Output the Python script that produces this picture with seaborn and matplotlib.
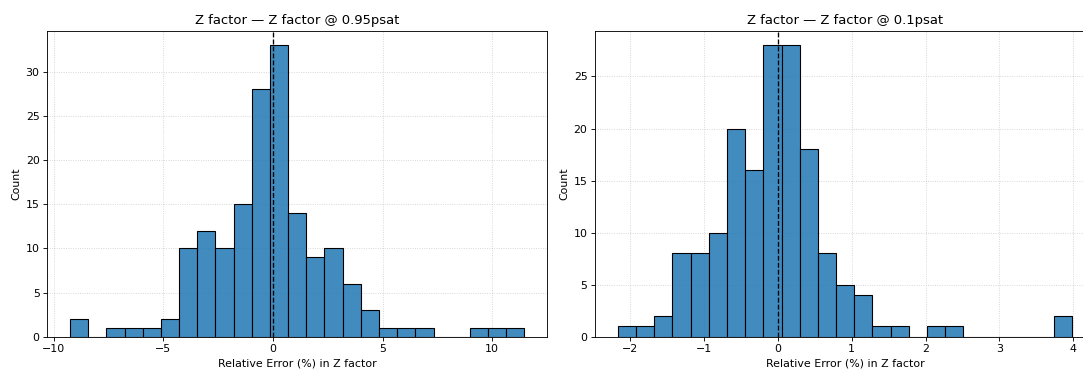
import numpy as np
import pandas as pd
import matplotlib
matplotlib.use("Agg")
import matplotlib.pyplot as plt
import seaborn as sns

# ---- data ----
titles = ["Z factor \u2014 Z factor @ 0.95psat", "Z factor \u2014 Z factor @ 0.1psat"]
xlabel = "Relative Error (%) in Z factor"

counts_095 = [2, 0, 1, 1, 1, 2, 10, 12, 10, 15, 28, 33, 14, 9, 10, 6, 3, 1, 1, 1, 0, 0, 1, 1, 1]
range_095 = (-9.26, 11.47)

counts_01 = [1, 1, 2, 8, 8, 10, 20, 16, 28, 28, 18, 8, 5, 4, 1, 1, 0, 1, 1, 0, 0, 0, 0, 0, 2]
range_01 = (-2.167, 3.99)

DPI = 79
fig = plt.figure(figsize=(1083 / DPI, 370 / DPI), dpi=DPI)
W, H = 1083.0, 370.0
ax1 = fig.add_axes([47.3 / W, 1 - 336.7 / H, 499.8 / W, 306.0 / H])
ax2 = fig.add_axes([595.2 / W, 1 - 336.7 / H, 500.0 / W, 306.0 / H])

for ax, counts, rng, title in [(ax1, counts_095, range_095, titles[0]),
                               (ax2, counts_01, range_01, titles[1])]:
    n = len(counts)
    edges = np.linspace(rng[0], rng[1], n + 1)
    centers = 0.5 * (edges[:-1] + edges[1:])
    df = pd.DataFrame({"err": centers, "w": counts})
    ax.set_axisbelow(True)
    sns.histplot(data=df, x="err", weights="w", bins=n, binrange=rng, ax=ax,
                 color="#1f77b4", alpha=0.85, edgecolor="black", linewidth=1.0)
    ax.axvline(0, color="black", linestyle="--", linewidth=1.2)
    ax.grid(True, linestyle=":", alpha=0.6)
    ax.set_title(title, fontsize=12)
    ax.set_xlabel(xlabel, fontsize=10)
    ax.set_ylabel("Count", fontsize=10)
    ax.tick_params(labelsize=10)

fig.savefig("out.png", dpi=DPI)
